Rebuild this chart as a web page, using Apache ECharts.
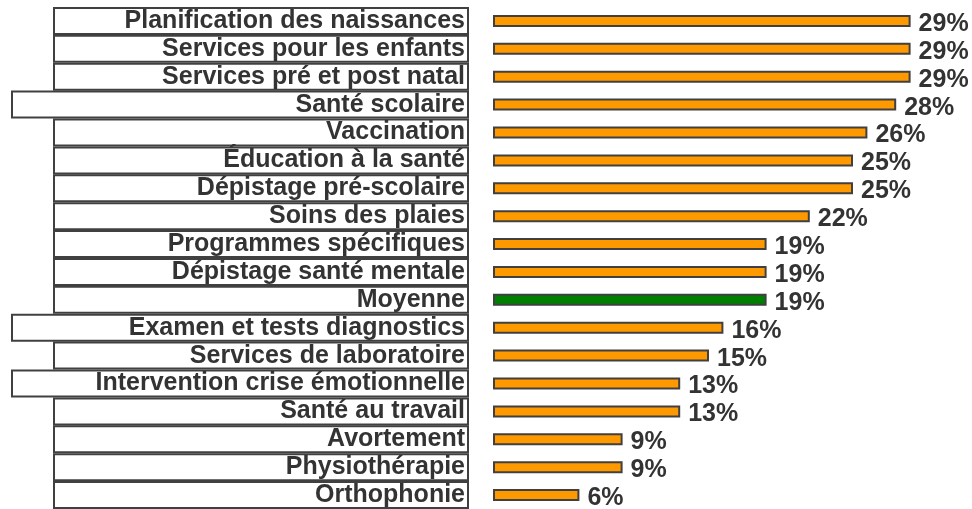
<!DOCTYPE html>
<html>
<head>
<meta charset="utf-8">
<title>Services</title>
<script src="https://cdn.jsdelivr.net/npm/echarts@6/dist/echarts.min.js"></script>
<style>
html,body{margin:0;padding:0;background:#fff;}
#main{width:972px;height:509px;}
</style>
</head>
<body>
<div id="main"></div>
<script>
// données
var categories = [
    'Planification des naissances',
    'Services pour les enfants',
    'Services pré et post natal',
    'Santé scolaire',
    'Vaccination',
    'Éducation à la santé',
    'Dépistage pré-scolaire',
    'Soins des plaies',
    'Programmes spécifiques',
    'Dépistage santé mentale',
    'Moyenne',
    'Examen et tests diagnostics',
    'Services de laboratoire',
    'Intervention crise émotionnelle',
    'Santé au travail',
    'Avortement',
    'Physiothérapie',
    'Orthophonie'
];
var values = [29, 29, 29, 28, 26, 25, 25, 22, 19, 19, 19, 16, 15, 13, 13, 9, 9, 6];
// les étiquettes dans une boîte plus large
var wideLabels = ['Santé scolaire', 'Examen et tests diagnostics', 'Intervention crise émotionnelle'];
var highlight = 'Moyenne';

var myChart = echarts.init(document.getElementById('main'));

var boxStyle = {
    fontSize: 25,
    fontWeight: 'bold',
    fontFamily: 'Liberation Sans, Arial, sans-serif',
    color: '#333',
    align: 'right',
    height: 22,
    lineHeight: 22,
    borderColor: '#404040',
    borderWidth: 2,
    backgroundColor: '#fff',
    padding: [1, 2, 1, 0]
};

var barData = values.map(function (v, i) {
    return {
        value: v,
        itemStyle: { color: categories[i] === highlight ? '#008000' : '#FF9900' }
    };
});

var option = {
    animation: false,
    grid: { left: 493, top: 7, width: 432, height: 504 },
    xAxis: {
        type: 'value',
        min: 0,
        max: 30,
        show: false
    },
    yAxis: {
        type: 'category',
        data: categories,
        inverse: true,
        axisLine: { show: false },
        axisTick: { show: false },
        axisLabel: {
            margin: 26,
            formatter: function (name) {
                return (wideLabels.indexOf(name) >= 0 ? '{w|' : '{n|') + name + '}';
            },
            rich: {
                n: Object.assign({ width: 410 }, boxStyle),
                w: Object.assign({ width: 452 }, boxStyle)
            }
        }
    },
    series: [{
        type: 'bar',
        data: barData,
        barWidth: 12,
        itemStyle: { borderColor: '#404040', borderWidth: 2 },
        label: {
            show: true,
            position: 'right',
            distance: 8,
            offset: [0, 3],
            formatter: '{c}%',
            fontSize: 25,
            fontWeight: 'bold',
            fontFamily: 'Liberation Sans, Arial, sans-serif',
            color: '#333'
        }
    }]
};

myChart.setOption(option);
</script>
</body>
</html>
